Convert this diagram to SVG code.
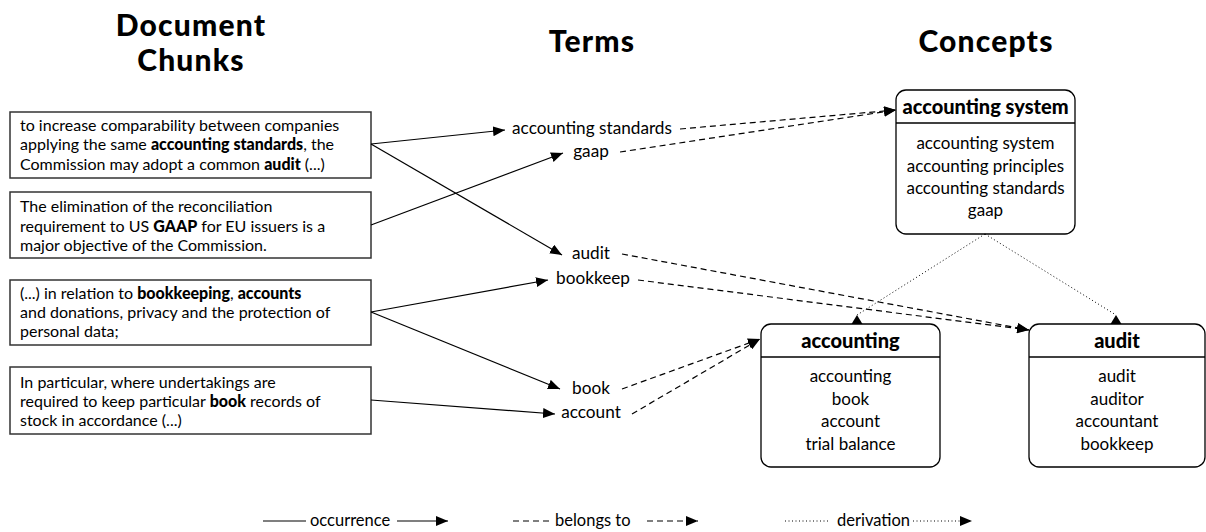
<svg xmlns="http://www.w3.org/2000/svg" width="1206" height="532" viewBox="0 0 1206 532">
<style>
text{font-family:Lato,"Noto Sans",sans-serif;fill:#000}
.title{font-size:30px;font-weight:900;text-anchor:middle;letter-spacing:1.2px}
.chunk{font-size:16px}
.term{font-size:17.2px;text-anchor:middle}
.head{font-size:20px;font-weight:900;text-anchor:middle}
.item{font-size:17px;text-anchor:middle}
.leg{font-size:16.5px}
.box{fill:#fff;stroke:#333;stroke-width:1.5}
.cbox{fill:#fff;stroke:#000;stroke-width:1.3}
.occ{fill:none;stroke:#000;stroke-width:1.2}
.bel{fill:none;stroke:#000;stroke-width:1.2;stroke-dasharray:6,4}
.der{fill:none;stroke:#000;stroke-width:1;stroke-dasharray:1,2.5}
</style>
<defs>
<marker id="arr" markerUnits="userSpaceOnUse" markerWidth="13" markerHeight="10" refX="12" refY="5" orient="auto">
<path d="M0,0 L12,5 L0,10 z" fill="#000"/>
</marker>
</defs>

<g id="titles">
<text class="title" x="191" y="36">Document</text>
<text class="title" x="191" y="71">Chunks</text>
<text class="title" x="592" y="52">Terms</text>
<text class="title" x="986" y="52">Concepts</text>
</g>

<g id="chunk1">
<rect class="box" x="10" y="112" width="361" height="66"/>
<text class="chunk" x="20" y="131">to increase comparability between companies</text>
<text class="chunk" x="20" y="150">applying the same <tspan font-weight="900">accounting standards</tspan>, the</text>
<text class="chunk" x="20" y="170">Commission may adopt a common <tspan font-weight="900">audit</tspan> (...)</text>
</g>
<g id="chunk2">
<rect class="box" x="10" y="192" width="361" height="66"/>
<text class="chunk" x="20" y="212">The elimination of the reconciliation</text>
<text class="chunk" x="20" y="232">requirement to US <tspan font-weight="900">GAAP</tspan> for EU issuers is a</text>
<text class="chunk" x="20" y="251">major objective of the Commission.</text>
</g>
<g id="chunk3">
<rect class="box" x="10" y="280" width="361" height="65"/>
<text class="chunk" x="20" y="299">(...) in relation to <tspan font-weight="900">bookkeeping</tspan>, <tspan font-weight="900">accounts</tspan></text>
<text class="chunk" x="20" y="318">and donations, privacy and the protection of</text>
<text class="chunk" x="20" y="337">personal data;</text>
</g>
<g id="chunk4">
<rect class="box" x="10" y="367" width="361" height="67"/>
<text class="chunk" x="20" y="388">In particular, where undertakings are</text>
<text class="chunk" x="20" y="407">required to keep particular <tspan font-weight="900">book</tspan> records of</text>
<text class="chunk" x="20" y="426">stock in accordance (...)</text>
</g>

<g id="term-accounting-standards"><text class="term" x="592" y="134">accounting standards</text></g>
<g id="term-gaap"><text class="term" x="591" y="157">gaap</text></g>
<g id="term-audit"><text class="term" x="591" y="259">audit</text></g>
<g id="term-bookkeep"><text class="term" x="593" y="284">bookkeep</text></g>
<g id="term-book"><text class="term" x="591" y="394">book</text></g>
<g id="term-account"><text class="term" x="591" y="418">account</text></g>

<g id="concept-accounting-system">
<rect class="cbox" x="896" y="90" width="179" height="144" rx="10"/>
<line x1="896" y1="123" x2="1075" y2="123" stroke="#000" stroke-width="1.3"/>
<text class="head" x="985.5" y="114">accounting system</text>
<text class="item" x="985.5" y="149">accounting system</text>
<text class="item" x="985.5" y="172">accounting principles</text>
<text class="item" x="985.5" y="194">accounting standards</text>
<text class="item" x="985.5" y="216">gaap</text>
</g>
<g id="concept-accounting">
<rect class="cbox" x="761" y="324" width="179" height="143" rx="10"/>
<line x1="761" y1="357" x2="940" y2="357" stroke="#000" stroke-width="1.3"/>
<text class="head" x="850.5" y="348">accounting</text>
<text class="item" x="850.5" y="382">accounting</text>
<text class="item" x="850.5" y="405">book</text>
<text class="item" x="850.5" y="427">account</text>
<text class="item" x="850.5" y="450">trial balance</text>
</g>
<g id="concept-audit">
<rect class="cbox" x="1029" y="324" width="176" height="143" rx="10"/>
<line x1="1029" y1="357" x2="1205" y2="357" stroke="#000" stroke-width="1.3"/>
<text class="head" x="1117" y="348">audit</text>
<text class="item" x="1117" y="382">audit</text>
<text class="item" x="1117" y="405">auditor</text>
<text class="item" x="1117" y="427">accountant</text>
<text class="item" x="1117" y="450">bookkeep</text>
</g>

<g id="connectors">
<line class="occ" x1="371" y1="144" x2="505" y2="130" marker-end="url(#arr)"/>
<line class="occ" x1="371" y1="144" x2="562" y2="255" marker-end="url(#arr)"/>
<line class="occ" x1="371" y1="225" x2="563" y2="153" marker-end="url(#arr)"/>
<line class="occ" x1="371" y1="312" x2="548" y2="280" marker-end="url(#arr)"/>
<line class="occ" x1="371" y1="312" x2="560" y2="389" marker-end="url(#arr)"/>
<line class="occ" x1="371" y1="400" x2="555" y2="414" marker-end="url(#arr)"/>
<line class="bel" x1="680" y1="129" x2="896" y2="110" marker-end="url(#arr)"/>
<line class="bel" x1="620" y1="152" x2="896" y2="110" marker-end="url(#arr)"/>
<line class="bel" x1="622" y1="254" x2="1029" y2="330" marker-end="url(#arr)"/>
<line class="bel" x1="638" y1="280" x2="1029" y2="330" marker-end="url(#arr)"/>
<line class="bel" x1="622" y1="389" x2="760" y2="339" marker-end="url(#arr)"/>
<line class="bel" x1="632" y1="414" x2="760" y2="339" marker-end="url(#arr)"/>
<line class="der" x1="985" y1="234" x2="857" y2="315"/>
<line class="der" x1="985" y1="234" x2="1116" y2="315"/>
<path d="M857,315 L851.5,324 L862.5,324 z" fill="#000"/>
<path d="M1116,315 L1110.5,324 L1121.5,324 z" fill="#000"/>
</g>

<g id="legend">
<line class="occ" x1="263" y1="521" x2="306" y2="521"/>
<text class="leg" x="310" y="526">occurrence</text>
<line class="occ" x1="397" y1="521" x2="448" y2="521" marker-end="url(#arr)"/>
<line class="bel" x1="513" y1="521" x2="551" y2="521"/>
<text class="leg" x="555" y="526">belongs to</text>
<line class="bel" x1="647" y1="521" x2="698" y2="521" marker-end="url(#arr)"/>
<line class="der" x1="785" y1="521" x2="830" y2="521"/>
<text class="leg" x="837" y="526">derivation</text>
<line class="der" x1="913" y1="521" x2="972" y2="521" marker-end="url(#arr)"/>
</g>
</svg>
